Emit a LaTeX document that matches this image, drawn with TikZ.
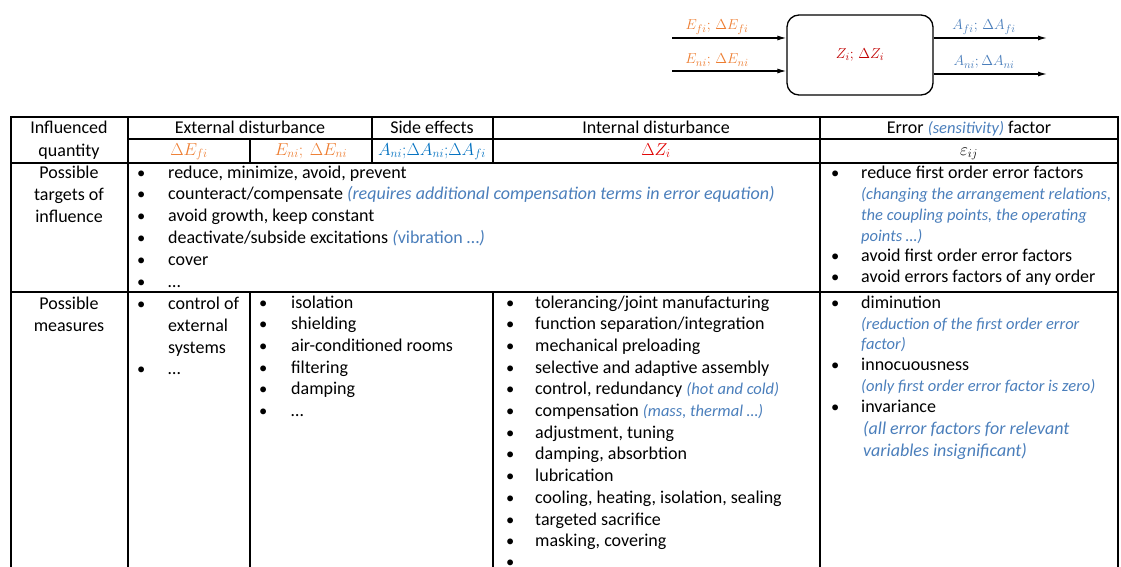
\documentclass[tikz,border=0pt]{standalone}
\usepackage{fontspec}
\setmainfont{Carlito}
\usetikzlibrary{arrows.meta}

\definecolor{orangeE}{HTML}{ED7D31}
\definecolor{blueA}{HTML}{0070C0}
\definecolor{note}{HTML}{4A7EBB}
\definecolor{redZ}{HTML}{E00000}
\definecolor{redBox}{HTML}{C00000}

% blue italic remarks: small and full size
\newcommand\nt[1]{\textcolor{note}{\fontsize{16.5}{20}\selectfont\itshape #1}}
\newcommand\bignt[1]{\textcolor{note}{\itshape #1}}

\tikzset{
  txt/.style={anchor=base west, inner sep=0pt},
  ctr/.style={anchor=base, inner sep=0pt},
  bul/.style={anchor=base west, inner sep=0pt, font=\fontsize{16.5}{20}\selectfont},
  mth/.style={ctr, font=\fontsize{16.5}{20}\selectfont},
  topmth/.style={ctr, font=\fontsize{15}{18}\selectfont},
  rule/.style={line width=1.1pt, line cap=rect},
  arr/.style={line width=1.2pt, -{Latex[length=9pt,width=5pt]}},
  sysbox/.style={draw, line width=1.3pt, rounded corners=12pt,
    minimum width=146pt, minimum height=80pt, inner sep=0pt,
    font=\fontsize{15}{18}\selectfont}
}

\begin{document}
\begin{tikzpicture}[x=1pt, y=-1pt, font=\fontsize{18}{21}\selectfont]
\clip (0,0) rectangle (1121,567);

% ---------- block diagram ----------
\node[sysbox] (sys) at (860,55) {\textcolor{redBox}{$Z_i;\,\Delta Z_i$}};
\coordinate (inF) at (672,38);
\coordinate (inN) at (672,71);
\coordinate (outF) at (1047,38);
\coordinate (outN) at (1047,74);
\draw[arr] (inF) -- (inF -| sys.west);
\draw[arr] (inN) -- (inN -| sys.west);
\draw[arr] (outF -| sys.east) -- (outF);
\draw[arr] (outN -| sys.east) -- (outN);
\node[topmth] (lEf) at (717,30) {\textcolor{orangeE}{$E_{fi};\,\Delta E_{fi}$}};
\node[topmth] (lEn) at (717,64) {\textcolor{orangeE}{$E_{ni};\,\Delta E_{ni}$}};
\node[topmth] (lAf) at (984,30) {\textcolor{note}{$A_{fi};\,\Delta A_{fi}$}};
\node[topmth] (lAn) at (984,66) {\textcolor{note}{$A_{ni};\Delta A_{ni}$}};

% ---------- table rules ----------
\draw[rule] (11,117) -- (1118,117);
\draw[rule] (128,139) -- (1118,139);
\draw[rule] (11,163) -- (1118,163);
\draw[rule] (11,292) -- (1118,292);
\draw[rule] (11,117) -- (11,570);
\draw[rule] (128,117) -- (128,570);
\draw[rule] (250,139) -- (250,163);
\draw[rule] (250,292) -- (250,570);
\draw[rule] (372,117) -- (372,163);
\draw[rule] (493,117) -- (493,163);
\draw[rule] (493,292) -- (493,570);
\draw[rule] (820,117) -- (820,570);
\draw[rule] (1118,117) -- (1118,570);

% ---------- header ----------
\node[ctr] (h1a) at (69,133) {Influenced};
\node[ctr] (h1b) at (69,156) {quantity};
\node[ctr] (h2) at (250,133) {External disturbance};
\node[ctr] (h3) at (432,133) {Side effects};
\node[ctr] (h4) at (656,133) {Internal disturbance};
\node[ctr] (h5) at (969,133) {Error \nt{(sensitivity)} factor};
\node[mth] (s1) at (189,155) {\textcolor{orangeE}{$\Delta E_{fi}$}};
\node[mth] (s2) at (311,155) {\textcolor{orangeE}{$E_{ni};\ \Delta E_{ni}$}};
\node[mth] (s3) at (432,155) {\textcolor{blueA}{$A_{ni};\!\Delta A_{ni};\!\Delta A_{fi}$}};
\node[mth] (s4) at (656,155) {\textcolor{redZ}{$\Delta Z_i$}};
\node[mth] (s5) at (969,155) {$\varepsilon_{ij}$};

% ---------- possible targets of influence ----------
\node[ctr] (r1a) at (69,178) {Possible};
\node[ctr] (r1b) at (69,200) {targets of};
\node[ctr] (r1c) at (69,222) {influence};
\foreach \t [count=\i] in {
  {reduce, minimize, avoid, prevent},
  {counteract/compensate \bignt{(requires additional compensation terms in error equation)}},
  {avoid growth, keep constant},
  {deactivate/subside excitations \textcolor{note}{\textit{(}vibration …\textit{)}}},
  {cover},
  {…}}{
  \node[bul] (tgb-\i) at (137,{178+21.8*(\i-1)}) {\textbullet};
  \node[txt] (tg-\i) at (168,{178+21.8*(\i-1)}) {\t};
}
\node[bul] (efb-1) at (831,178) {\textbullet};
\node[txt] (ef-1) at (861,178) {reduce first order error factors};
\node[txt] (ef-2) at (861,199) {\nt{(changing the arrangement relations,}};
\node[txt] (ef-3) at (861,220) {\nt{the coupling points, the operating}};
\node[txt] (ef-4) at (861,241) {\nt{points …)}};
\node[bul] (efb-5) at (831,261) {\textbullet};
\node[txt] (ef-5) at (861,261) {avoid first order error factors};
\node[bul] (efb-6) at (831,282) {\textbullet};
\node[txt] (ef-6) at (861,282) {avoid errors factors of any order};

% ---------- possible measures ----------
\node[ctr] (r2a) at (69,309) {Possible};
\node[ctr] (r2b) at (69,331) {measures};
\node[bul] (cb-1) at (137,309) {\textbullet};
\node[txt] (c-1) at (168,309) {control of};
\node[txt] (c-2) at (168,331) {external};
\node[txt] (c-3) at (168,353) {systems};
\node[bul] (cb-4) at (137,374) {\textbullet};
\node[txt] (c-4) at (168,374) {…};
\foreach \t [count=\i] in {isolation, shielding, air-conditioned rooms,
  filtering, damping, …}{
  \node[bul] (isb-\i) at (259,{308+21.7*(\i-1)}) {\textbullet};
  \node[txt] (is-\i) at (291,{308+21.7*(\i-1)}) {\t};
}
\foreach \t [count=\i] in {
  {tolerancing/joint manufacturing},
  {function separation/integration},
  {mechanical preloading},
  {selective and adaptive assembly},
  {control, redundancy \nt{(hot and cold)}},
  {compensation \nt{(mass, thermal …)}},
  {adjustment, tuning},
  {damping, absorbtion},
  {lubrication},
  {cooling, heating, isolation, sealing},
  {targeted sacrifice},
  {masking, covering}}{
  \node[bul] (inb-\i) at (506,{308+21.7*(\i-1)}) {\textbullet};
  \node[txt] (in-\i) at (535,{308+21.7*(\i-1)}) {\t};
}
\node[bul] (inb-13) at (506,567) {\textbullet};
\node[bul] (emb-1) at (831,308) {\textbullet};
\node[txt] (em-1) at (861,308) {diminution};
\node[txt] (em-2) at (861,329) {\nt{(reduction of the first order error}};
\node[txt] (em-3) at (861,349) {\nt{factor)}};
\node[bul] (emb-4) at (831,370) {\textbullet};
\node[txt] (em-4) at (861,370) {innocuousness};
\node[txt] (em-5) at (861,391) {\nt{(only first order error factor is zero)}};
\node[bul] (emb-6) at (831,412) {\textbullet};
\node[txt] (em-6) at (861,412) {invariance};
\node[txt] (em-7) at (863,434) {\bignt{(all error factors for relevant}};
\node[txt] (em-8) at (863,456) {\bignt{variables insignificant)}};
\end{tikzpicture}
\end{document}
